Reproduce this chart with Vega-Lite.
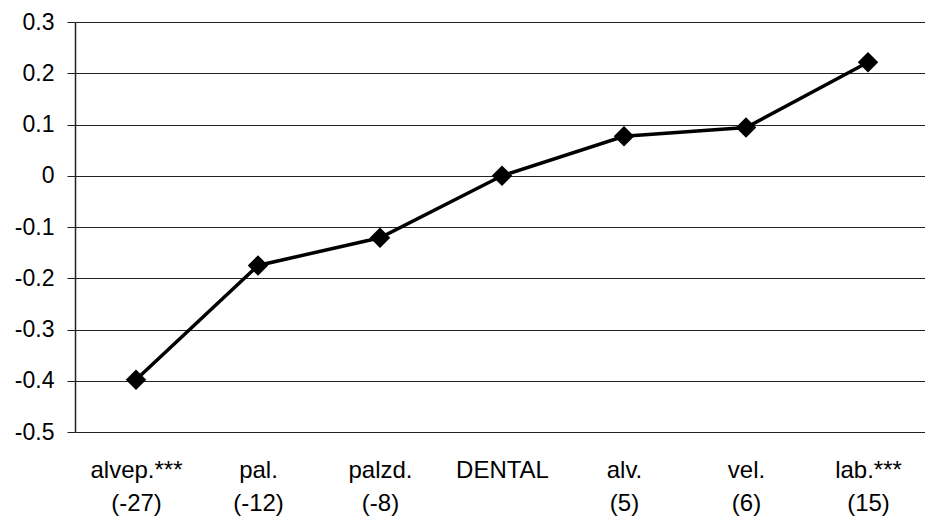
{
  "$schema": "https://vega.github.io/schema/vega-lite/v6.json",
  "autosize": {"type": "none"},
  "padding": {"left": 75, "top": 22, "right": 0, "bottom": 91},
  "width": 854,
  "height": 410,
  "background": "white",
  "config": {
    "view": {"stroke": null},
    "font": "Liberation Sans",
    "axis": {"labelFont": "Liberation Sans", "labelColor": "black", "labelFontSize": 23}
  },
  "data": {
    "values": [
      {"cat": "alvep.***\n(-27)", "value": -0.398},
      {"cat": "pal.\n(-12)", "value": -0.175},
      {"cat": "palzd.\n(-8)", "value": -0.121},
      {"cat": "DENTAL", "value": 0.0},
      {"cat": "alv.\n(5)", "value": 0.077},
      {"cat": "vel.\n(6)", "value": 0.094},
      {"cat": "lab.***\n(15)", "value": 0.2215}
    ]
  },
  "encoding": {
    "x": {
      "field": "cat",
      "type": "ordinal",
      "sort": null,
      "scale": {"type": "point", "padding": 0.5},
      "axis": {
        "title": null,
        "labelAngle": 0,
        "labelExpr": "split(datum.value, '\\n')",
        "labelFontSize": 24,
        "labelLineHeight": 33,
        "labelPadding": 26,
        "labelBaseline": "top",
        "ticks": false,
        "domain": false,
        "grid": false
      }
    },
    "y": {
      "field": "value",
      "type": "quantitative",
      "scale": {"domain": [-0.5, 0.3], "nice": false, "zero": false},
      "axis": {
        "title": null,
        "values": [-0.5, -0.4, -0.3, -0.2, -0.1, 0, 0.1, 0.2, 0.3],
        "labelExpr": "toString(round(datum.value*10)/10)",
        "tickSize": 8,
        "tickColor": "#222",
        "tickWidth": 1,
        "labelPadding": 13,
        "domainColor": "#222",
        "domainWidth": 1.5,
        "grid": true,
        "gridColor": "#222",
        "gridWidth": 1,
        "gridOpacity": 1
      }
    }
  },
  "layer": [
    {"mark": {"type": "line", "color": "black", "strokeWidth": 3.5}},
    {"mark": {"type": "point", "shape": "diamond", "filled": true, "color": "black", "size": 420, "opacity": 1}}
  ]
}
